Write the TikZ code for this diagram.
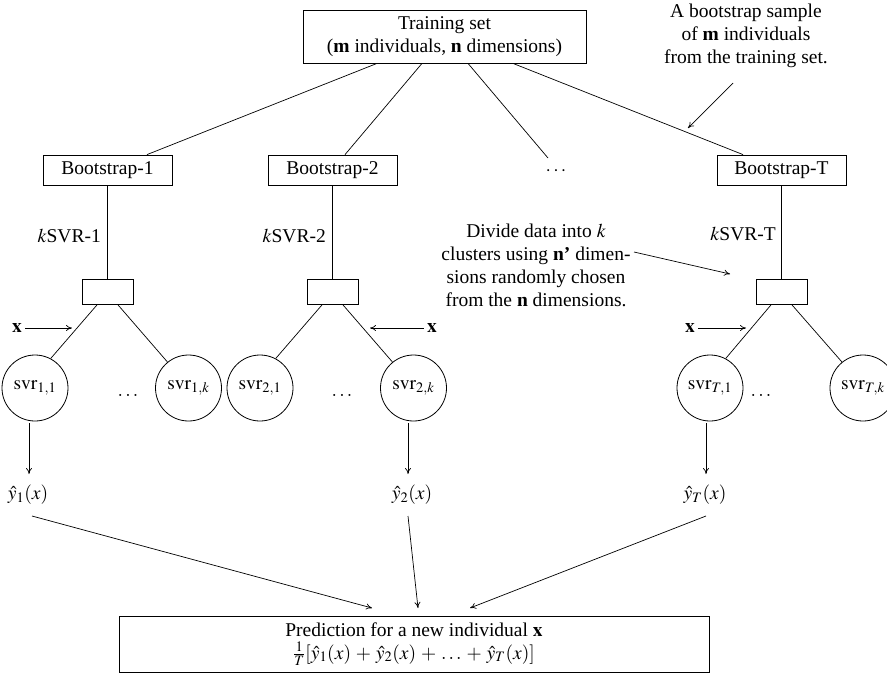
\documentclass[tikz,border=0pt]{standalone}
\usepackage{mathptmx}
\usepackage{fontspec}
\setmainfont{Liberation Serif}
\usetikzlibrary{arrows.meta}
\begin{document}
\begin{tikzpicture}[x=1pt,y=-1pt,
  every node/.style={font=\fontsize{19.5}{23}\selectfont},
  box/.style={draw,line width=0.8pt,inner sep=0pt,align=center},
  bbox/.style={box,minimum width=129pt,minimum height=30pt},
  sbox/.style={box,minimum width=51pt,minimum height=25pt},
  svr/.style={draw,circle,line width=0.8pt,minimum size=66pt,inner sep=0pt},
  ln/.style={line width=0.7pt},
  arr/.style={line width=0.7pt,-{To[length=6pt,width=6pt]}}]
\useasboundingbox (0,0) rectangle (887,673);
% top
\node[box,minimum width=283pt,minimum height=53pt] (ts) at (444.5,36.5) {Training set\\(\textbf{m} individuals, \textbf{n} dimensions)};
\node[align=center] (note1) at (746,36) {A bootstrap sample\\of \textbf{m} individuals\\from the training set.};
\coordinate (n1s) at (733,83);
\coordinate (n1e) at (688,128);
\draw[arr] (n1s) -- (n1e);
% bootstraps
\node[bbox] (b1) at (107.5,170) {Bootstrap-1};
\node[bbox] (b2) at (332.5,170) {Bootstrap-2};
\node (bd) at (556,171) {$\cdots$};
\coordinate (bdt) at (548,158);
\node[bbox] (bT) at (781.5,170) {Bootstrap-T};
\draw[ln] ([xshift=-67.5pt]ts.south) -- ([xshift=39.5pt]b1.north);
\draw[ln] ([xshift=-22.5pt]ts.south) -- ([xshift=12.5pt]b2.north);
\draw[ln] ([xshift=23.5pt]ts.south) -- (bdt);
\draw[ln] ([xshift=68.5pt]ts.south) -- ([xshift=-38.5pt]bT.north);
% small boxes
\node[sbox] (s1) at (107.5,292) {};
\node[sbox] (s2) at (332.5,292) {};
\node[sbox] (sT) at (781.5,292) {};
\draw[ln] (b1.south) -- (s1.north);
\draw[ln] (b2.south) -- (s2.north);
\draw[ln] (bT.south) -- (sT.north);
\node[anchor=east,inner sep=0pt] (k1) at (101,236) {$k$SVR-1};
\node[anchor=east,inner sep=0pt] (k2) at (326,236) {$k$SVR-2};
\node[anchor=east,inner sep=0pt] (kT) at (776,234) {$k$SVR-T};
% divide note
\node[align=center] (note2) at (536,265.5) {Divide data into $k$\\clusters using \textbf{n'} dimen-\\sions randomly chosen\\from the \textbf{n} dimensions.};
\coordinate (n2s) at (634,252);
\coordinate (n2e) at (730,274);
\draw[arr] (n2s) -- (n2e);
% circles
\node[svr] (c11) at (35,388) {$\mathrm{svr}_{1,1}$};
\node[svr] (c1k) at (188.5,388) {$\mathrm{svr}_{1,k}$};
\node (d1) at (128,395) {$\ldots$};
\node[svr] (c21) at (260,388) {$\mathrm{svr}_{2,1}$};
\node[svr] (c2k) at (413.5,388) {$\mathrm{svr}_{2,k}$};
\node (d2) at (342,395) {$\ldots$};
\node[svr] (cT1) at (710,388) {$\mathrm{svr}_{T,1}$};
\node[svr] (cTk) at (863,388) {$\mathrm{svr}_{T,k}$};
\node (dT) at (761,395) {$\ldots$};
\draw[ln] ([xshift=-10.5pt]s1.south) -- (c11.62);
\draw[ln] ([xshift=10.5pt]s1.south) -- (c1k.129);
\draw[ln] ([xshift=-10.5pt]s2.south) -- (c21.62);
\draw[ln] ([xshift=10.5pt]s2.south) -- (c2k.129);
\draw[ln] ([xshift=-10.5pt]sT.south) -- (cT1.62);
\draw[ln] ([xshift=10.5pt]sT.south) -- (cTk.129);
% x inputs
\node (x1) at (17,328) {$\mathbf{x}$};
\coordinate (x1e) at (72,328);
\draw[arr] (x1) -- (x1e);
\node (x2) at (432,328) {$\mathbf{x}$};
\coordinate (x2e) at (370,328);
\draw[arr] (x2) -- (x2e);
\node (x3) at (690,328) {$\mathbf{x}$};
\coordinate (x3e) at (746,328);
\draw[arr] (x3) -- (x3e);
% outputs
\node (y1) at (28,495) {$\hat{y}_1(x)$};
\node (y2) at (412,495) {$\hat{y}_2(x)$};
\node (yT) at (705,495) {$\hat{y}_T(x)$};
\coordinate (o1s) at (29,423); \coordinate (o1e) at (29,474);
\coordinate (o2s) at (408,423); \coordinate (o2e) at (408,474);
\coordinate (oTs) at (706,423); \coordinate (oTe) at (706,474);
\draw[arr] (o1s) -- (o1e);
\draw[arr] (o2s) -- (o2e);
\draw[arr] (oTs) -- (oTe);
% prediction
\node[box,minimum width=590pt,minimum height=56pt] (pr) at (414,644) {Prediction for a new individual $\mathbf{x}$\\$\frac{1}{T}[\hat{y}_1(x)\,+\,\hat{y}_2(x)\,+\,\ldots\,+\,\hat{y}_T(x)]$};
\coordinate (p1s) at (32,516); \coordinate (p1e) at (372,608);
\coordinate (p2s) at (408,516); \coordinate (p2e) at (418,608);
\coordinate (pTs) at (706,516); \coordinate (pTe) at (470,608);
\draw[arr] (p1s) -- (p1e);
\draw[arr] (p2s) -- (p2e);
\draw[arr] (pTs) -- (pTe);
\end{tikzpicture}
\end{document}
